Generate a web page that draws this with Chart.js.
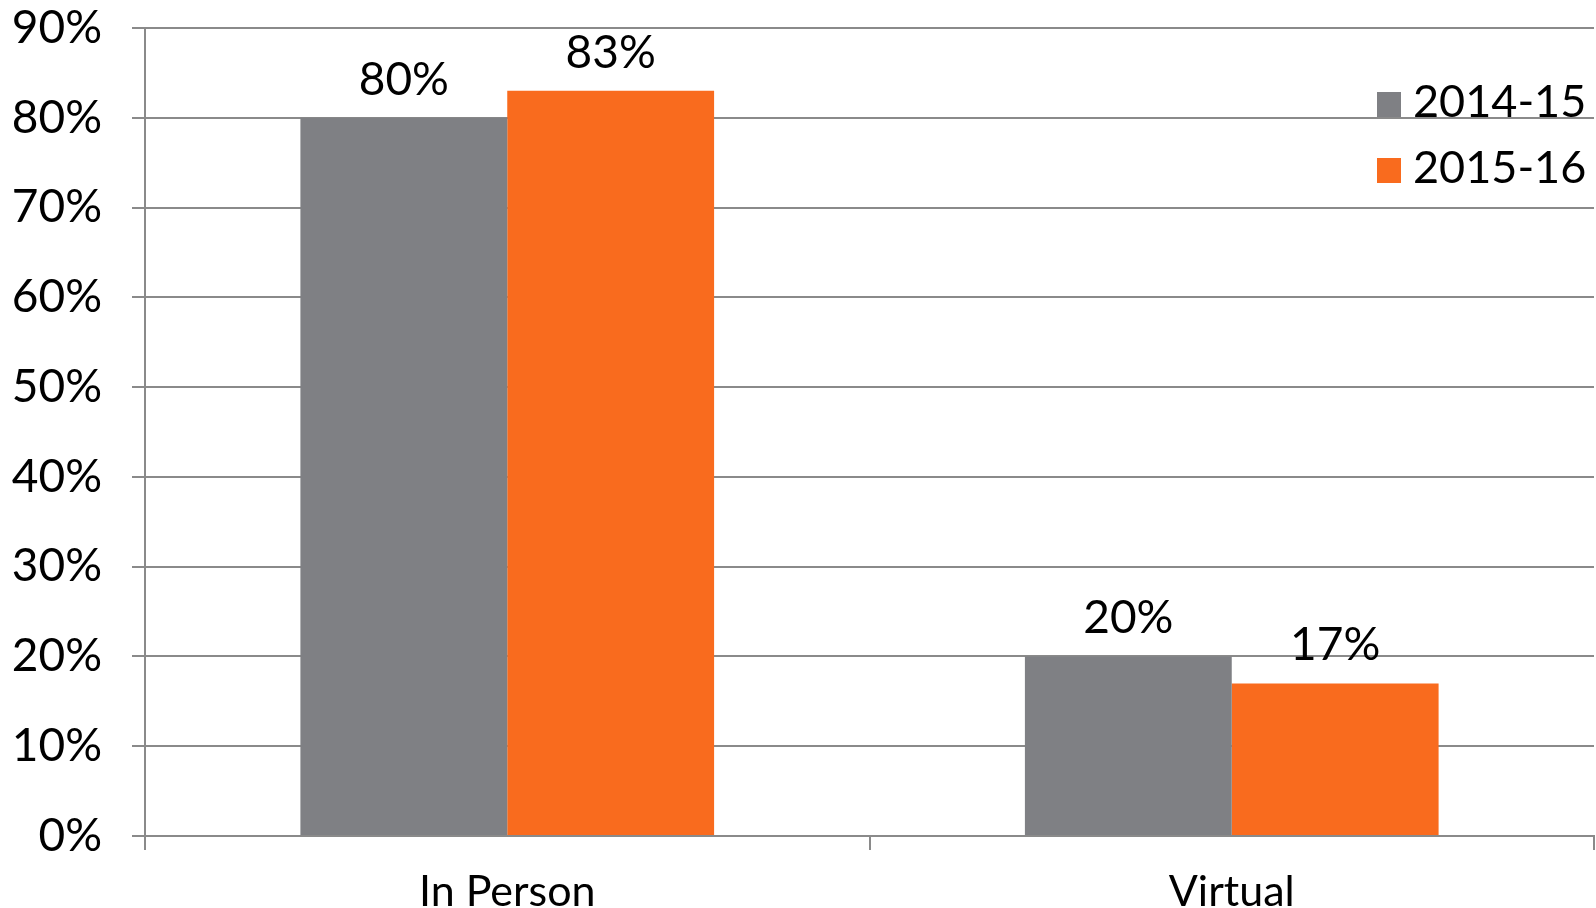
<!DOCTYPE html>
<html>
<head>
<meta charset="utf-8">
<script src="https://cdn.jsdelivr.net/npm/chart.js@4.4.1/dist/chart.umd.min.js"></script>
<style>
  html, body { margin: 0; padding: 0; background: #fff; }
  canvas { display: block; }
</style>
</head>
<body>
<canvas id="chart" width="1596" height="908"></canvas>
<script>
// values
const categories = ['In Person', 'Virtual'];
const seriesNames = ['2014-15', '2015-16'];
const values2014 = [80, 20];
const values2015 = [83, 17];
const yTicks = [0, 10, 20, 30, 40, 50, 60, 70, 80, 90];

const GRAY = '#7f8084';
const ORANGE = '#f96b1e';
const GRID = '#8a8a8a';
const FONT = 'Lato, "Open Sans", sans-serif';

// value labels above each bar
const barLabels = {
  id: 'barLabels',
  afterDatasetsDraw(chart) {
    const ctx = chart.ctx;
    ctx.save();
    ctx.font = '46px ' + FONT;
    ctx.fillStyle = '#000';
    ctx.textAlign = 'center';
    ctx.textBaseline = 'alphabetic';
    chart.data.datasets.forEach((ds, i) => {
      chart.getDatasetMeta(i).data.forEach((bar, j) => {
        ctx.fillText(ds.data[j] + '%', bar.x, bar.y - 23);
      });
    });
    ctx.restore();
  }
};

// legend sits inside the plot, top right
const cornerLegend = {
  id: 'cornerLegend',
  afterDraw(chart) {
    const ctx = chart.ctx;
    const x = chart.chartArea.right - 217;
    ctx.save();
    ctx.font = '45px ' + FONT;
    ctx.textBaseline = 'alphabetic';
    ctx.textAlign = 'left';
    chart.data.datasets.forEach((ds, i) => {
      const base = 117 + i * 66;
      ctx.fillStyle = ds.backgroundColor;
      ctx.fillRect(x, base - 25, 24, 25);
      ctx.fillStyle = '#000';
      ctx.fillText(ds.label, x + 36, base);
    });
    ctx.restore();
  }
};

new Chart(document.getElementById('chart'), {
  type: 'bar',
  data: {
    labels: categories,
    datasets: [
      { label: seriesNames[0], data: values2014, backgroundColor: GRAY,
        categoryPercentage: 0.571, barPercentage: 1.0 },
      { label: seriesNames[1], data: values2015, backgroundColor: ORANGE,
        categoryPercentage: 0.571, barPercentage: 1.0 }
    ]
  },
  options: {
    responsive: false,
    animation: false,
    devicePixelRatio: 1,
    layout: { padding: { top: 28, right: 2, left: 0, bottom: 0 } },
    plugins: {
      legend: { display: false },
      tooltip: { enabled: false }
    },
    scales: {
      x: {
        afterFit(scale) {
          scale.height = 72;
          scale.paddingLeft = 0;
          scale.paddingRight = 0;
        },
        grid: {
          offset: true,
          drawOnChartArea: false,
          color: GRID,
          lineWidth: 2,
          tickLength: 14
        },
        border: { display: true, color: GRID, width: 2 },
        ticks: {
          color: '#000',
          padding: 16,
          font: { family: FONT, size: 43 }
        }
      },
      y: {
        min: 0,
        max: 90,
        afterFit(scale) {
          scale.width = 145;
          scale.paddingTop = 0;
          scale.paddingBottom = 0;
        },
        afterBuildTicks(scale) { scale.ticks = yTicks.map(v => ({ value: v })); },
        grid: { color: GRID, lineWidth: 2, tickLength: 13 },
        border: { display: true, color: GRID, width: 2 },
        ticks: {
          color: '#000',
          padding: 30,
          font: { family: FONT, size: 46 },
          callback: v => v + '%'
        }
      }
    }
  },
  plugins: [barLabels, cornerLegend]
});
</script>
</body>
</html>
